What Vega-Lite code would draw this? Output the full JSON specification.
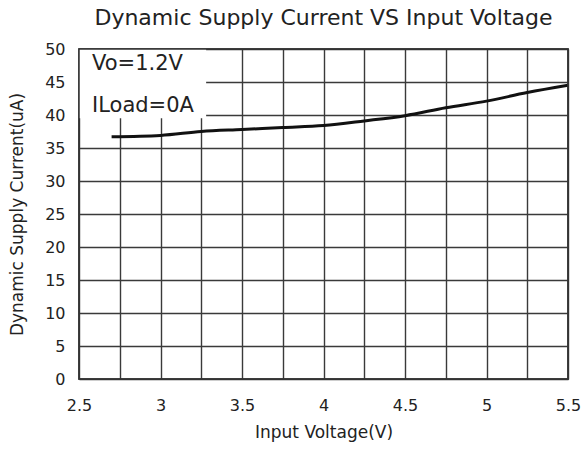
{
  "$schema": "https://vega.github.io/schema/vega-lite/v6.json",
  "width": 489,
  "height": 330,
  "autosize": {"type": "none"},
  "padding": {"left": 79, "top": 49, "right": 15, "bottom": 70},
  "background": "white",
  "title": {
    "text": "Dynamic Supply Current VS Input Voltage",
    "font": "DejaVu Sans",
    "fontSize": 22,
    "fontWeight": "normal",
    "color": "#222",
    "offset": 11,
    "anchor": "middle"
  },
  "config": {
    "view": {"stroke": "#333", "strokeWidth": 1.5},
    "axis": {
      "labelFont": "DejaVu Sans",
      "titleFont": "DejaVu Sans",
      "labelFontSize": 16,
      "titleFontSize": 17,
      "titleFontWeight": "normal",
      "labelColor": "#222",
      "titleColor": "#222",
      "domain": false,
      "ticks": false,
      "gridColor": "#3a3a3a",
      "gridWidth": 1.4,
      "gridOpacity": 1,
      "labelOverlap": false
    }
  },
  "datasets": {
    "curve": [
      {"v": 2.7, "i": 36.7},
      {"v": 3.0, "i": 36.9},
      {"v": 3.25, "i": 37.5},
      {"v": 3.5, "i": 37.8},
      {"v": 3.75, "i": 38.1},
      {"v": 4.0, "i": 38.4},
      {"v": 4.25, "i": 39.1},
      {"v": 4.5, "i": 39.9},
      {"v": 4.75, "i": 41.1},
      {"v": 5.0, "i": 42.1},
      {"v": 5.25, "i": 43.4},
      {"v": 5.5, "i": 44.5}
    ],
    "box": [{"v": 2.5, "v2": 3.28, "i": 39.5, "i2": 50}],
    "notes": [{"v": 2.58, "i": 46.8, "t": "Vo=1.2V"}, {"v": 2.58, "i": 40.45, "t": "ILoad=0A"}]
  },
  "encoding": {
    "x": {
      "field": "v", "type": "quantitative",
      "scale": {"domain": [2.5, 5.5], "nice": false, "zero": false},
      "axis": {
        "title": "Input Voltage(V)",
        "values": [2.5, 2.75, 3, 3.25, 3.5, 3.75, 4, 4.25, 4.5, 4.75, 5, 5.25, 5.5],
        "format": "~g",
        "labelExpr": "(datum.value * 2) % 1 == 0 ? datum.label : ''",
        "labelPadding": 18,
        "titlePadding": 11,
        "labelFlush": false
      }
    },
    "y": {
      "field": "i", "type": "quantitative",
      "scale": {"domain": [0, 50], "nice": false},
      "axis": {
        "title": "Dynamic Supply Current(uA)",
        "values": [0, 5, 10, 15, 20, 25, 30, 35, 40, 45, 50],
        "labelPadding": 14,
        "titlePadding": 18,
        "labelFlush": false
      }
    }
  },
  "layer": [
    {
      "data": {"name": "curve"},
      "mark": {"type": "line", "color": "#111", "strokeWidth": 3, "interpolate": "monotone"}
    },
    {
      "data": {"name": "box"},
      "mark": {"type": "rect", "color": "white"},
      "encoding": {
        "x2": {"field": "v2"},
        "y2": {"field": "i2"}
      }
    },
    {
      "data": {"name": "notes"},
      "mark": {"type": "text", "font": "DejaVu Sans", "fontSize": 21, "align": "left", "baseline": "alphabetic", "color": "#222"},
      "encoding": {
        "text": {"field": "t"}
      }
    },
    {
      "data": {"name": "box"},
      "mark": {"type": "rect", "fill": null, "stroke": "#333", "strokeWidth": 1.5},
      "encoding": {
        "x": {"datum": 2.5, "type": "quantitative"},
        "x2": {"datum": 5.5},
        "y": {"datum": 0, "type": "quantitative"},
        "y2": {"datum": 50}
      }
    }
  ]
}
